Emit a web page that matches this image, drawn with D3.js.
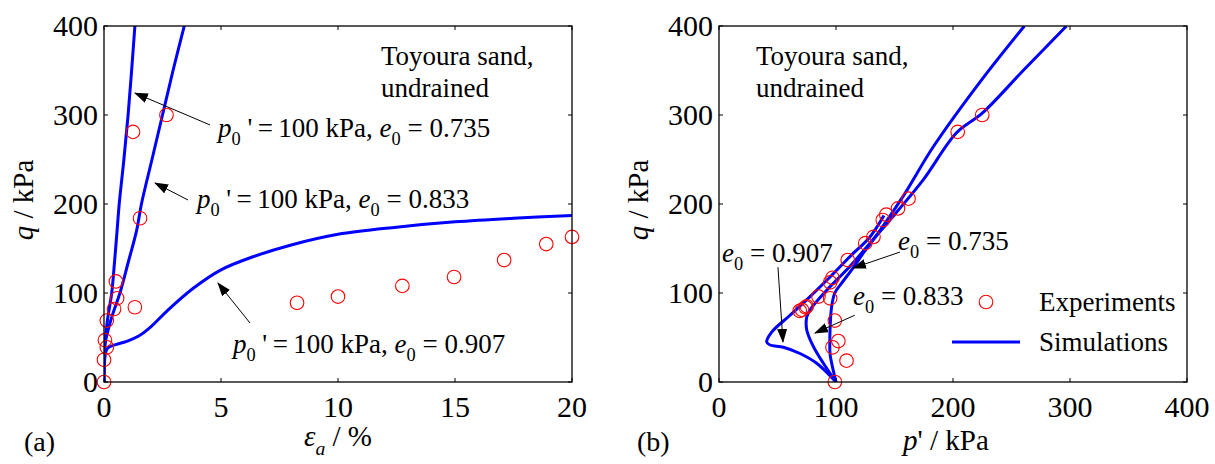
<!doctype html>
<html>
<head>
<script src="https://d3js.org/d3.v7.min.js"></script>
<style>
  body { margin: 0; background: #fff; }
  svg text { font-family: "Liberation Serif", "Times New Roman", Times, "DejaVu Serif", serif; fill: #000; white-space: pre; }
</style>
</head>
<body>
<svg width="1215" height="464"></svg>
<script>
// ---- data ----
var strainTicks = [0, 5, 10, 15, 20];
var qTicks = [0, 100, 200, 300, 400];
var pTicks = [0, 100, 200, 300, 400];

// (a) experiments, q vs axial strain
var expStrain = [0, 0, 0.12, 0.04, 0.12, 0.43, 0.56, 0.51, 1.32, 1.54, 1.24, 2.67, 8.25, 10.0, 12.75, 14.96, 17.1, 18.9, 20];
var expQa     = [0, 25, 39, 47, 69, 82, 94, 113, 84, 184, 281, 300, 89, 96, 108, 118, 137, 155, 163];

// (a) simulations
var simStrain735 = [0, 0.03, 0.15, 0.33, 0.45, 0.55, 0.65, 0.85, 1.03, 1.18, 1.32];
var simQ735      = [0, 40, 70, 100, 135, 167, 200, 250, 300, 350, 400];
var simStrain833 = [0, 0.03, 0.3, 0.68, 1.03, 1.4, 1.6, 2.05, 2.5, 2.95, 3.43];
var simQ833      = [0, 40, 70, 100, 134, 171, 200, 250, 300, 350, 400];
var simStrain907 = [0, 0.05, 0.15, 0.5, 1.0, 1.5, 2.0, 2.7, 3.8, 5, 6.4, 8, 10, 12.5, 15, 17.5, 20];
var simQ907      = [0, 30, 38, 42, 46, 52, 62, 80, 105, 126, 141, 154, 166, 174, 180, 184, 187];

// (b) experiments, q vs p'
var expP  = [99, 109, 102, 97, 99, 95, 85, 75, 71, 74, 69, 97, 95, 110, 125, 132, 140, 143, 153, 162, 204, 225];
var expQb = [0, 24, 46, 39, 69, 94, 96, 85, 81, 84, 80, 117, 112, 137, 156, 163, 182, 188, 195, 206, 281, 300];

// (b) simulations
var simP735  = [100, 96.3, 94.9, 94.9, 96.3, 99, 104.8, 113.4, 123.4, 134.8, 158, 183, 223, 261];
var simQp735 = [0, 21, 32, 58, 85, 100, 111, 126, 145, 165, 210, 264, 337, 400];
var simP833  = [100, 89.2, 80.6, 75, 75, 77.8, 92, 112, 129, 150, 175, 203, 225, 260, 297];
var simQp833 = [0, 21, 40, 58.5, 73, 81, 103, 130, 156, 188, 228, 280, 302, 350, 400];
var simP907  = [100, 83.5, 69.2, 55, 43.6, 40.8, 45, 60.7, 77.8, 94.9, 112, 129, 141];
var simQp907 = [0, 21, 32, 39, 41.6, 45, 56, 75, 96, 118, 141, 163, 187];

// ---- layout ----
var svg = d3.select("svg");
var plotTop = 26, plotBottom = 382;
var blue = "#0000ff", red = "#ff0000";
var serif = "'Liberation Serif', 'Times New Roman', Times, 'DejaVu Serif', serif";

var xA = d3.scaleLinear().domain([0, 20]).range([104, 572]);
var xB = d3.scaleLinear().domain([0, 400]).range([719, 1187]);
var yQ = d3.scaleLinear().domain([0, 400]).range([plotBottom, plotTop]);

var defs = svg.append("defs");
defs.append("marker")
    .attr("id", "head")
    .attr("markerUnits", "userSpaceOnUse")
    .attr("markerWidth", 14).attr("markerHeight", 10)
    .attr("refX", 13).attr("refY", 5)
    .attr("orient", "auto")
  .append("path")
    .attr("d", "M0,0 L14,5 L0,10 Z")
    .attr("fill", "#000");

function clip(id, x) {
    defs.append("clipPath").attr("id", id)
      .append("rect")
        .attr("x", x.range()[0]).attr("y", plotTop)
        .attr("width", x.range()[1] - x.range()[0]).attr("height", plotBottom - plotTop);
}
clip("clipA", xA);
clip("clipB", xB);

function txt(g, x, y, size) {
    return g.append("text").attr("x", x).attr("y", y)
        .style("font-family", serif)
        .style("font-size", size + "px");
}

// math-ish label built from parts: {t, i (italic), s (subscript)}
function mathText(g, x, y, parts, size) {
    var t = txt(g, x, y, size);
    var shift = 0;
    parts.forEach(function(p) {
        var ts = t.append("tspan").text(p.t);
        if (p.i) ts.style("font-style", "italic");
        var want = p.s ? size * 0.3 : 0;
        if (want !== shift) { ts.attr("dy", want - shift); shift = want; }
        if (p.s) ts.style("font-size", (size * 0.68) + "px");
    });
    return t;
}

function drawFrame(g, x, ticks) {
    var x0 = x.range()[0], x1 = x.range()[1];
    g.append("rect")
        .attr("x", x0).attr("y", plotTop)
        .attr("width", x1 - x0).attr("height", plotBottom - plotTop)
        .attr("fill", "none").attr("stroke", "#000").attr("stroke-width", 1.3);
    // inward ticks on all four sides
    var tl = 4;
    ticks.forEach(function(v) {
        g.append("line").attr("x1", x(v)).attr("x2", x(v)).attr("y1", plotBottom).attr("y2", plotBottom - tl).attr("stroke", "#000");
        g.append("line").attr("x1", x(v)).attr("x2", x(v)).attr("y1", plotTop).attr("y2", plotTop + tl).attr("stroke", "#000");
        txt(g, x(v), 417, 30).attr("text-anchor", "middle").text(v);
    });
    qTicks.forEach(function(v) {
        g.append("line").attr("x1", x0).attr("x2", x0 + tl).attr("y1", yQ(v)).attr("y2", yQ(v)).attr("stroke", "#000");
        g.append("line").attr("x1", x1).attr("x2", x1 - tl).attr("y1", yQ(v)).attr("y2", yQ(v)).attr("stroke", "#000");
        txt(g, x0 - 6, yQ(v) + 10, 30).attr("text-anchor", "end").text(v);
    });
}

function zipPts(a, b) { return a.map(function(v, i) { return [v, b[i]]; }); }

function drawPanel(x, clipId, sims, ex, ey) {
    var g = svg.append("g");
    var line = d3.line()
        .x(function(d) { return x(d[0]); })
        .y(function(d) { return yQ(d[1]); })
        .curve(d3.curveCatmullRom.alpha(0.5));
    var cg = g.append("g").attr("clip-path", "url(#" + clipId + ")");
    sims.forEach(function(s) {
        cg.append("path").attr("d", line(s))
            .attr("fill", "none").attr("stroke", blue).attr("stroke-width", 3).attr("stroke-linejoin", "round");
    });
    g.append("g").selectAll("circle")
        .data(zipPts(ex, ey))
        .enter().append("circle")
        .attr("cx", function(d) { return x(d[0]); })
        .attr("cy", function(d) { return yQ(d[1]); })
        .attr("r", 6.8)
        .attr("fill", "none").attr("stroke", red).attr("stroke-width", 1.1);
    return g;
}

function arrow(g, x, x1, y1, x2, y2) {
    g.append("line")
        .attr("x1", x(x1)).attr("y1", yQ(y1)).attr("x2", x(x2)).attr("y2", yQ(y2))
        .attr("stroke", "#000").attr("stroke-width", 1)
        .attr("marker-end", "url(#head)");
}

// ---- panel (a) ----
var gA = drawPanel(xA, "clipA",
    [zipPts(simStrain735, simQ735), zipPts(simStrain833, simQ833), zipPts(simStrain907, simQ907)],
    expStrain, expQa);
drawFrame(gA, xA, strainTicks);

txt(gA, 381, 65, 27).text("Toyoura sand,");
txt(gA, 381, 97, 27).text("undrained");

function pLabel(e) {
    return [{t: "p", i: true}, {t: "0", s: true}, {t: " '\u2009=\u2009100 kPa, "}, {t: "e", i: true}, {t: "0", s: true}, {t: " = " + e}];
}
mathText(gA, xA(4.87), yQ(275), pLabel("0.735"), 27);
arrow(gA, xA, 4.53, 288.8, 1.32, 324.7);
mathText(gA, xA(3.97), yQ(195.5), pLabel("0.833"), 27);
arrow(gA, xA, 3.59, 204.5, 2.18, 223.6);
mathText(gA, xA(5.51), yQ(32.6), pLabel("0.907"), 27);
arrow(gA, xA, 6.24, 66.3, 4.87, 111.2);

mathText(gA, 304, 446, [{t: "\u03b5", i: true}, {t: "a", i: true, s: true}, {t: " / %"}], 29);
txt(gA, 24, 451, 28).text("(a)");
mathText(svg, 0, 0, [{t: "q", i: true}, {t: " / kPa"}], 29)
    .attr("text-anchor", "middle")
    .attr("transform", "translate(33,200) rotate(-90)");

// ---- panel (b) ----
var gB = drawPanel(xB, "clipB",
    [zipPts(simP735, simQp735), zipPts(simP833, simQp833), zipPts(simP907, simQp907)],
    expP, expQb);
drawFrame(gB, xB, pTicks);

txt(gB, 756, 65, 27).text("Toyoura sand,");
txt(gB, 756, 97, 27).text("undrained");

function eLabel(e) { return [{t: "e", i: true}, {t: "0", s: true}, {t: " = " + e}]; }
mathText(gB, xB(2.6), yQ(135), eLabel("0.907"), 27);
arrow(gB, xB, 50.4, 129, 54.7, 45);
mathText(gB, xB(153), yQ(148), eLabel("0.735"), 27);
arrow(gB, xB, 154.7, 146, 114.5, 128);
mathText(gB, xB(114.5), yQ(86.5), eLabel("0.833"), 27);
arrow(gB, xB, 116, 75, 82, 55);

// legend
gB.append("circle").attr("cx", 986).attr("cy", 302).attr("r", 6.8)
    .attr("fill", "none").attr("stroke", red).attr("stroke-width", 1.1);
txt(gB, 1039, 311, 27).text("Experiments");
gB.append("line").attr("x1", 952).attr("x2", 1020).attr("y1", 342).attr("y2", 342)
    .attr("stroke", blue).attr("stroke-width", 3);
txt(gB, 1039, 351, 27).text("Simulations");

mathText(gB, 903, 450, [{t: "p", i: true}, {t: "' / kPa"}], 29);
txt(gB, 637, 451, 28).text("(b)");
mathText(svg, 0, 0, [{t: "q", i: true}, {t: " / kPa"}], 29)
    .attr("text-anchor", "middle")
    .attr("transform", "translate(648,200) rotate(-90)");
</script>
</body>
</html>
